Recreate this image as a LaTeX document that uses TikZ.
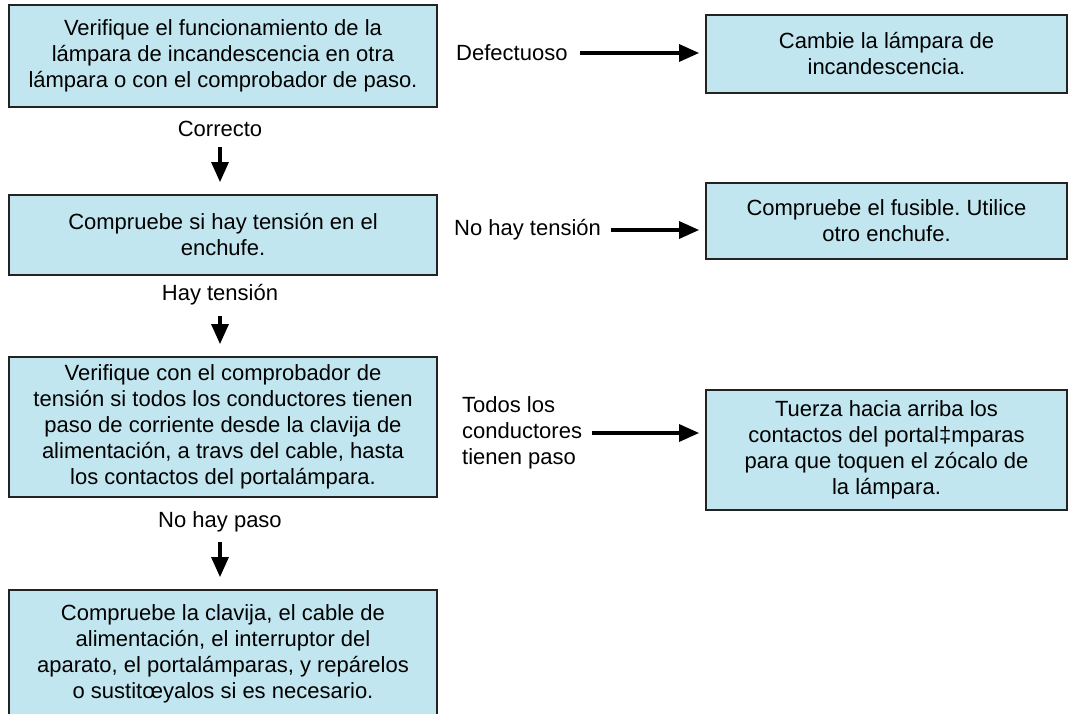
\documentclass[tikz,border=0pt]{standalone}
\usepackage{fontspec}
\setmainfont{Liberation Sans}
\usetikzlibrary{arrows.meta}
\definecolor{boxblue}{RGB}{194,230,240}
\definecolor{edge}{RGB}{35,35,35}
\frenchspacing
\begin{document}
\begin{tikzpicture}[x=1pt,y=-1pt,
  txt/.style={font=\fontsize{22}{26}\selectfont},
  box/.style={txt, draw=edge, line width=1.8pt, fill=boxblue, align=center, inner sep=0pt},
  lbox/.style={box, minimum width=428pt},
  rbox/.style={box, minimum width=361pt},
  lab/.style={txt, inner sep=0pt},
  arr/.style={line width=3.2pt, -{Triangle[length=20pt,width=17pt]}}]
\useasboundingbox (0,0) rectangle (1076,714);

% left column
\node[lbox, minimum height=102pt] (b1) at (223,56)
  {Verifique el funcionamiento de la\\lámpara de incandescencia en otra\\lámpara o con el comprobador de paso.};
\node[lbox, minimum height=80pt] (b2) at (223,235)
  {Compruebe si hay tensión en el\\enchufe.};
\node[lbox, minimum height=140pt] (b3) at (223,427)
  {Verifique con el comprobador de\\tensión si todos los conductores tienen\\paso de corriente desde la clavija de\\alimentación, a travs del cable, hasta\\los contactos del portalámpara.};
\node[lbox, minimum height=127pt] (b4) at (223,653.5)
  {Compruebe la clavija, el cable de\\alimentación, el interruptor del\\aparato, el portalámparas, y repárelos\\o sustitœyalos si es necesario.};

% right column
\node[rbox, minimum height=78pt] (r1) at (886.5,54)
  {Cambie la lámpara de\\incandescencia.};
\node[rbox, minimum height=76pt] (r2) at (886.5,221)
  {Compruebe el fusible. Utilice\\otro enchufe.};
\node[rbox, minimum height=120pt] (r3) at (886.5,450)
  {Tuerza hacia arriba los\\contactos del portal‡mparas\\para que toquen el zócalo de\\la lámpara.};

% vertical labels
\node[lab] (c1) at (220,129) {Correcto};
\node[lab] (c2) at (220,295) {Hay tensión};
\node[lab] (c3) at (220,522) {No hay paso};

% horizontal labels
\node[lab, anchor=west] (h1) at (456,53) {Defectuoso};
\node[lab, anchor=west] (h2) at (454,230) {No hay tensión};
\node[lab, anchor=west, align=left] (h3) at (462,433) {Todos los\\conductores\\tienen paso};

% vertical arrows
\draw[arr, shorten <=10pt, shorten >=12pt] (c1.south) -- (c1.south |- b2.north);
\draw[arr, shorten <=10pt, shorten >=12pt] (c2.south) -- (c2.south |- b3.north);
\draw[arr, shorten <=10pt, shorten >=12pt] (c3.south) -- (c3.south |- b4.north);

% horizontal arrows
\draw[arr, shorten <=12pt, shorten >=6pt] (h1.east) -- (h1.east -| r1.west);
\draw[arr, shorten <=10pt, shorten >=6pt] (h2.east) -- (h2.east -| r2.west);
\draw[arr, shorten <=10pt, shorten >=6pt] (h3.east) -- (h3.east -| r3.west);
\end{tikzpicture}
\end{document}
